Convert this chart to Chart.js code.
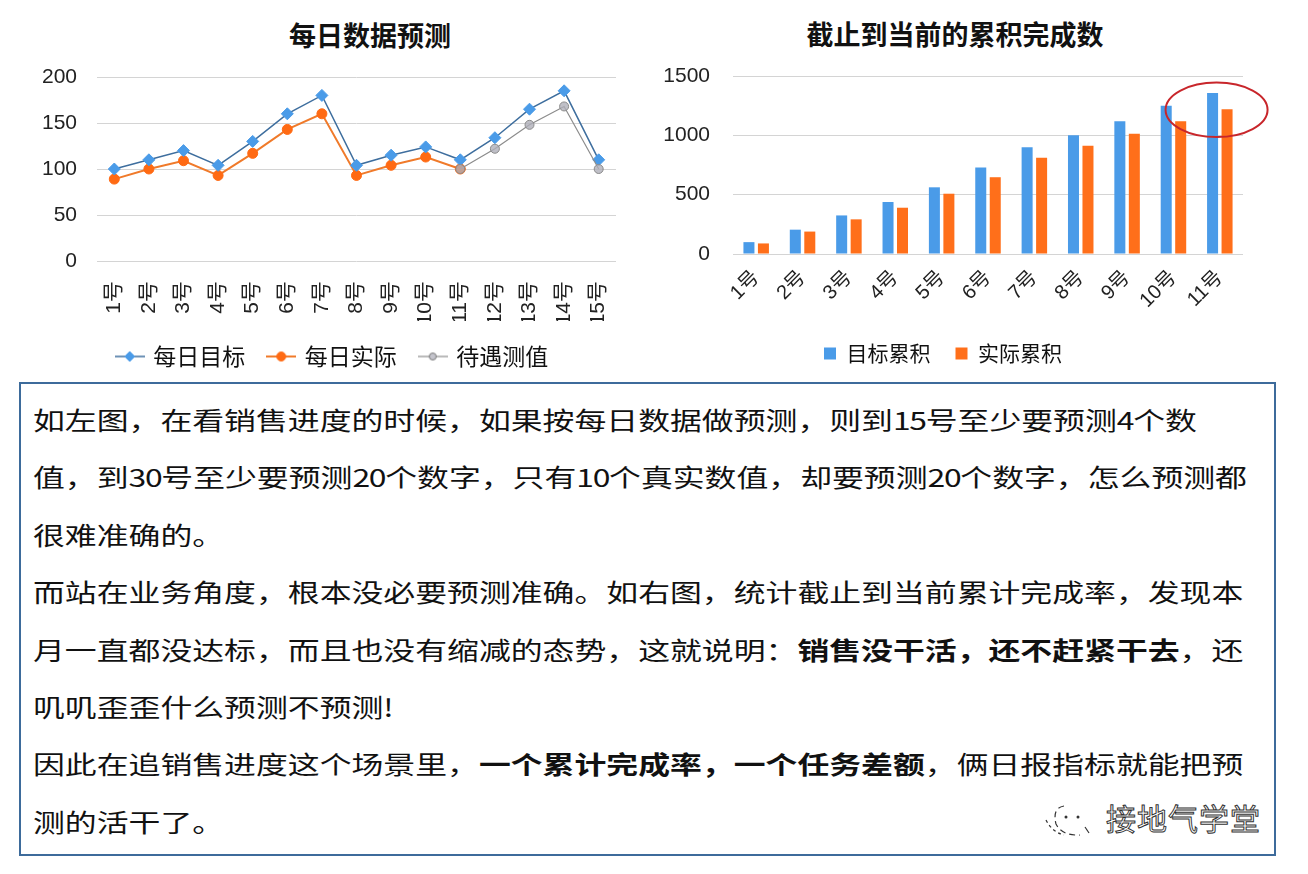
<!DOCTYPE html>
<html>
<head>
<meta charset="utf-8">
<script src="https://cdn.jsdelivr.net/npm/chart.js@4.4.0/dist/chart.umd.min.js"></script>
<style>
html,body{margin:0;padding:0;background:#fff;width:1308px;height:874px;overflow:hidden;font-family:"Noto Sans CJK SC","Noto Sans",sans-serif;}
#stage{position:relative;width:1308px;height:874px;}
.title{position:absolute;font-weight:bold;font-size:27px;color:#111;transform:translate(-50%,-50%);white-space:nowrap;line-height:1;}
#c1wrap{position:absolute;left:0;top:0;width:691px;height:380px;}
#c2wrap{position:absolute;left:643px;top:0;width:627px;height:376px;}
#box{position:absolute;left:19px;top:382px;width:1257px;height:474px;box-sizing:border-box;border:2px solid #3d6b9b;padding:7px 0 0 12px;color:#111;}
.ln{height:57.4px;line-height:57.4px;font-size:24.5px;white-space:nowrap;transform:scaleX(1.3);transform-origin:0 50%;}
.ln b{font-weight:bold;}
.n{letter-spacing:-1px;}
#wm{position:absolute;left:1040px;top:798px;}
</style>
</head>
<body>
<div id="stage">
  <div class="title" style="left:370px;top:34px;">每日数据预测</div>
  <div class="title" style="left:955px;top:33px;">截止到当前的累积完成数</div>
  <div id="c1wrap"><canvas id="c1"></canvas></div>
  <div id="c2wrap"><canvas id="c2"></canvas></div>
  <div id="box">
    <div class="ln">如左图，在看销售进度的时候，如果按每日数据做预测，则到<span class="n">15</span>号至少要预测<span class="n">4</span>个数</div>
    <div class="ln">值，到<span class="n">30</span>号至少要预测<span class="n">20</span>个数字，只有<span class="n">10</span>个真实数值，却要预测<span class="n">20</span>个数字，怎么预测都</div>
    <div class="ln">很难准确的。</div>
    <div class="ln">而站在业务角度，根本没必要预测准确。如右图，统计截止到当前累计完成率，发现本</div>
    <div class="ln">月一直都没达标，而且也没有缩减的态势，这就说明：<b>销售没干活，还不赶紧干去</b>，还</div>
    <div class="ln">叽叽歪歪什么预测不预测!</div>
    <div class="ln">因此在追销售进度这个场景里，<b>一个累计完成率，一个任务差额</b>，俩日报指标就能把预</div>
    <div class="ln">测的活干了。</div>
  </div>
  <svg id="wm" width="230" height="42" viewBox="0 0 230 42">
    <path d="M6 22 Q12 34 24 37" stroke="#333" stroke-width="1.2" fill="none" stroke-dasharray="3 3"/>
    <path d="M24 8 Q12 10 16 26 Q22 38 40 37" stroke="#333" stroke-width="1.2" fill="none" stroke-dasharray="6 4"/>
    <circle cx="26" cy="19" r="1.5" fill="#333"/>
    <circle cx="38" cy="19" r="1.5" fill="#333"/>
    <path d="M45 29 L49 35" stroke="#333" stroke-width="1.2"/>
    <text x="66" y="32" font-size="30" font-family="Noto Sans CJK SC" fill="#ffffff" stroke="#333333" stroke-width="1" letter-spacing="1">接地气学堂</text>
  </svg>
</div>
<script>
// ---- data ----
const dayLabels = ['1号','2号','3号','4号','5号','6号','7号','8号','9号','10号','11号','12号','13号','14号','15号'];
const dailyTarget = [100,110,120,104,130,160,180,104,115,124,110,134,165,185,110];
const dailyActual = [89,100,109,93,117,143,160,93,104,113,100,null,null,null,null];
const forecastVals = [null,null,null,null,null,null,null,null,null,null,100,122,148,168,100];
const leftTicks = {min:0, max:200, step:50};

const cumLabels = ['1号','2号','3号','4号','5号','6号','7号','8号','9号','10号','11号'];
const cumTarget = [100,205,325,438,562,728,900,1000,1118,1250,1356];
const cumActual = [89,189,292,390,508,647,812,912,1014,1118,1220];
const rightTicks = {min:0, max:1500, step:500};
const highlight = {index:10, value:1215, span:230};

const FAM = '"Liberation Sans","Noto Sans CJK SC",sans-serif';
Chart.defaults.font.family = FAM;
Chart.defaults.color = '#222';

function legendImg(lineColor, lw, fill, stroke, shape, r){
  const c = document.createElement('canvas');
  c.width = 30; c.height = 14;
  const g = c.getContext('2d');
  g.strokeStyle = lineColor; g.lineWidth = lw;
  g.beginPath(); g.moveTo(0,7); g.lineTo(30,7); g.stroke();
  g.fillStyle = fill; g.strokeStyle = stroke; g.lineWidth = 1;
  g.beginPath();
  if(shape === 'diamond'){ g.moveTo(15-r,7); g.lineTo(15,7-r); g.lineTo(15+r,7); g.lineTo(15,7+r); g.closePath(); }
  else { g.arc(15,7,r,0,Math.PI*2); }
  g.fill(); g.stroke();
  return c;
}

const S1 = [
  {label:'每日目标', line:'#3e6e9e', lw:1.5, fill:'#4a9be8', stroke:'#4a9be8', shape:'diamond', r:5},
  {label:'每日实际', line:'#f07a2a', lw:2, fill:'#ff6a13', stroke:'#ff6a13', shape:'circle', r:4.5},
  {label:'待遇测值', line:'#8c8c8c', lw:1.2, fill:'#c4c4cc', stroke:'#7a7a7a', shape:'circle', r:3.5}
];

new Chart(document.getElementById('c1'), {
  type:'line',
  data:{
    labels: dayLabels,
    datasets:[
      {label:S1[0].label, data:dailyTarget, order:1, borderColor:S1[0].line, borderWidth:1.5, pointStyle:'rectRot', pointRadius:6, pointBackgroundColor:S1[0].fill, pointBorderColor:S1[0].stroke, pointBorderWidth:1},
      {label:S1[1].label, data:dailyActual, order:2, borderColor:S1[1].line, borderWidth:2, pointStyle:'circle', pointRadius:5, pointBackgroundColor:S1[1].fill, pointBorderColor:S1[1].stroke, pointBorderWidth:1},
      {label:S1[2].label, data:forecastVals, order:0, borderColor:S1[2].line, borderWidth:1.2, pointStyle:'circle', pointRadius:4.5, pointBackgroundColor:'rgba(175,175,185,0.8)', pointBorderColor:'#8a8a8a', pointBorderWidth:1}
    ]
  },
  options:{
    responsive:true, maintainAspectRatio:false, animation:false,
    layout:{padding:{left:0, right:25, top:77, bottom:2}},
    plugins:{
      tooltip:{enabled:false},
      legend:{position:'bottom', labels:{
        usePointStyle:true, pointStyleWidth:24, padding:24, color:'#111',
        font:{size:23, family:'"Noto Sans CJK SC",sans-serif'},
        generateLabels:()=>S1.map((s,i)=>({text:s.label, pointStyle:legendImg(s.line,s.lw,s.fill,s.stroke,s.shape,s.r), fillStyle:s.fill, strokeStyle:s.line, lineWidth:0, datasetIndex:i, hidden:false, fontColor:'#111'}))
      }}
    },
    scales:{
      x:{offset:true, grid:{display:false}, border:{display:false},
         ticks:{autoSkip:false, minRotation:90, maxRotation:90, padding:12, font:{size:21}, color:'#222'},
         afterFit(s){ s.height = 60; }},
      y:{min:leftTicks.min, max:leftTicks.max, border:{display:false},
         grid:{color:'#d4d4d4', drawTicks:false},
         ticks:{stepSize:leftTicks.step, padding:20, font:{size:21}, color:'#222', callback:v=>String(v)},
         afterFit(s){ s.width = 97; }},
      ySpacer:{type:'linear', position:'right', display:true, min:0, max:1,
         grid:{display:false, drawTicks:false}, border:{display:false}, ticks:{display:false},
         afterFit(s){ s.width = 50; }}
    }
  }
});

const ellipsePlugin = {
  id:'ellipseMark',
  afterDatasetsDraw(chart){
    const xs = chart.scales.x, ys = chart.scales.y, ctx = chart.ctx;
    const step = xs.getPixelForValue(1) - xs.getPixelForValue(0);
    const cx = xs.getPixelForValue(highlight.index) - step*0.07;
    const cy = ys.getPixelForValue(highlight.value);
    const rx = step*1.1;
    const ry = ys.getPixelForValue(0) - ys.getPixelForValue(highlight.span);
    ctx.save();
    ctx.strokeStyle = '#c8262b'; ctx.lineWidth = 2;
    ctx.beginPath(); ctx.ellipse(cx, cy, rx, ry, 0, 0, Math.PI*2); ctx.stroke();
    ctx.restore();
  }
};

new Chart(document.getElementById('c2'), {
  type:'bar',
  data:{
    labels: cumLabels,
    datasets:[
      {label:'目标累积', data:cumTarget, backgroundColor:'#4a9be8', categoryPercentage:0.625, barPercentage:0.76},
      {label:'实际累积', data:cumActual, backgroundColor:'#ff6f1a', categoryPercentage:0.625, barPercentage:0.76}
    ]
  },
  options:{
    responsive:true, maintainAspectRatio:false, animation:false,
    layout:{padding:{left:0, right:27, top:76, bottom:2}},
    plugins:{
      tooltip:{enabled:false},
      legend:{position:'bottom', labels:{boxWidth:12, boxHeight:12, padding:25, color:'#111',
        font:{size:21, family:'"Noto Sans CJK SC",sans-serif'}}}
    },
    scales:{
      x:{grid:{display:false}, border:{display:false},
         ticks:{autoSkip:false, minRotation:45, maxRotation:45, padding:4, font:{size:20}, color:'#222'},
         afterFit(s){ s.height = 64; }},
      y:{min:rightTicks.min, max:rightTicks.max, border:{display:false},
         grid:{color:'#d4d4d4', drawTicks:false},
         ticks:{stepSize:rightTicks.step, padding:23, font:{size:21}, color:'#222', callback:v=>String(v)},
         afterFit(s){ s.width = 90; }}
    }
  },
  plugins:[ellipsePlugin]
});
</script>
</body>
</html>
